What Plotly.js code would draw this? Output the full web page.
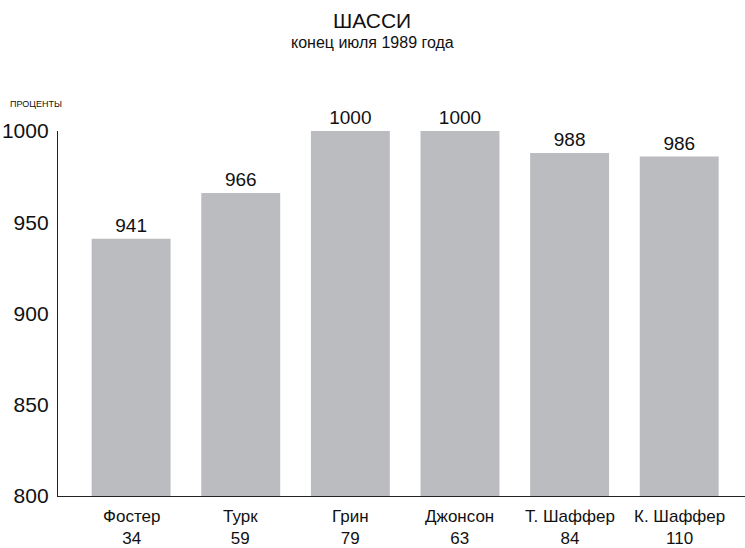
<!DOCTYPE html>
<html>
<head>
<meta charset="utf-8">
<script src="https://cdn.plot.ly/plotly-3.0.1.min.js"></script>
<style>html,body{margin:0;padding:0;background:#fff;}#chart{width:745px;height:548px;}</style>
</head>
<body>
<div id="chart"></div>
<script>
const names = ['Фостер', 'Турк', 'Грин', 'Джонсон', 'Т. Шаффер', 'К. Шаффер'];
const counts = ['34', '59', '79', '63', '84', '110'];
const values = [941, 966, 1000, 1000, 988, 986];
const yTicks = [800, 850, 900, 950, 1000];

const FONT = 'Liberation Sans, Arial, sans-serif';

const trace = {
  type: 'bar',
  x: names,
  y: values,
  marker: {color: '#bbbcbf'},
  text: values.map(String),
  textposition: 'outside',
  cliponaxis: false,
  textfont: {family: FONT, size: 19, color: '#111'},
  hoverinfo: 'none'
};

const catAnn = names.map((n, i) => ({
  text: n + '<br>' + counts[i], xref: 'x', yref: 'paper', x: n, y: 0, yshift: -9,
  showarrow: false, xanchor: 'center', yanchor: 'top', align: 'center',
  font: {family: FONT, size: 17, color: '#111'}
}));

const layout = {
  width: 745, height: 548,
  margin: {l: 58, r: 0, t: 131, b: 52, pad: 0},
  paper_bgcolor: '#fff', plot_bgcolor: '#fff',
  showlegend: false,
  bargap: 0.28,
  font: {family: FONT, color: '#111'},
  xaxis: {
    type: 'category',
    range: [-0.667, 5.6],
    showline: true, linecolor: '#222', linewidth: 1.2,
    showgrid: false, zeroline: false,
    ticks: '', showticklabels: false
  },
  yaxis: {
    range: [800, 1000],
    tickvals: yTicks, ticktext: yTicks.map(String),
    showline: true, linecolor: '#222', linewidth: 1.2,
    showgrid: false, zeroline: false,
    ticks: '', tickfont: {family: FONT, size: 21, color: '#111'},
    ticklabelstandoff: 4
  },
  annotations: [
    {text: 'ШАССИ', xref: 'paper', yref: 'paper', x: (372 - 58) / 687, y: 1, yshift: 111,
     showarrow: false, xanchor: 'center', yanchor: 'middle', font: {family: FONT, size: 21, color: '#111'}},
    {text: 'конец июля 1989 года', xref: 'paper', yref: 'paper', x: (372 - 58) / 687, y: 1, yshift: 89,
     showarrow: false, xanchor: 'center', yanchor: 'middle', font: {family: FONT, size: 16, color: '#111'}},
    {text: 'ПРОЦЕНТЫ', xref: 'paper', yref: 'paper', x: 0, xshift: -50, y: 1, yshift: 27,
     showarrow: false, xanchor: 'left', yanchor: 'middle', font: {family: FONT, size: 9, color: '#111'}}
  ].concat(catAnn)
};

Plotly.newPlot('chart', [trace], layout, {staticPlot: true, displayModeBar: false});
</script>
</body>
</html>
